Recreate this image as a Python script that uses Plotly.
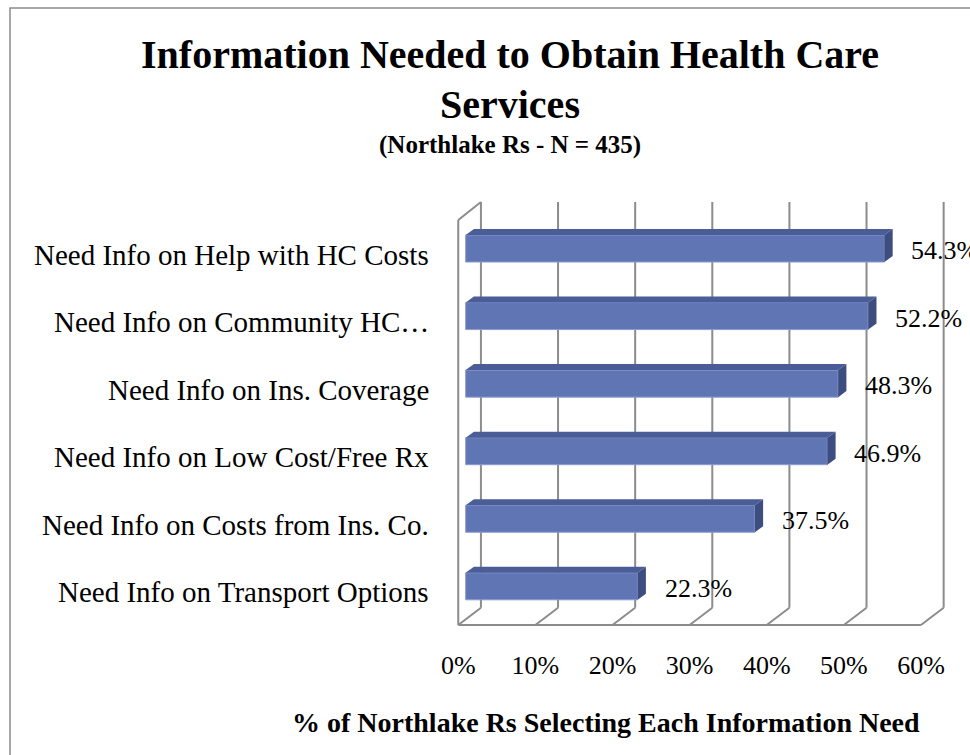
import plotly.graph_objects as go

# ---- data ----
categories = [
    "Need Info on Transport Options",
    "Need Info on Costs from Ins. Co.",
    "Need Info on Low Cost/Free Rx",
    "Need Info on Ins. Coverage",
    "Need Info on Community HC…",
    "Need Info on Help with HC Costs",
]
values = [22.3, 37.5, 46.9, 48.3, 52.2, 54.3]
tick_values = [0, 10, 20, 30, 40, 50, 60]
tick_labels = ["0%", "10%", "20%", "30%", "40%", "50%", "60%"]

# ---- styling / 3-D geometry (axis units) ----
FONT = "Liberation Serif"
FRONT = "#6076B4"
TOP = "#4B5D97"
SIDE = "#3E4D80"
GRID = "#8C8C8C"

W, H = 970, 755
ML, MR, MT, MB = 440, 10, 190, 115
XR = [-3.327, 64.1]
YR = [-0.795, 5.866]

BAR_HALF = 0.2          # half thickness of each bar
DEPTH_X, DEPTH_Y = 1.07, 0.089   # bar depth projection
FRONT_X = -0.96         # floor front edge offset
BACK_X = 1.98           # back wall offset
FLOOR_FRONT_Y, FLOOR_BACK_Y = -0.573, -0.317
WALL_TOP_BACK, WALL_TOP_FRONT = 5.688, 5.422

ys = list(range(len(categories)))

fig = go.Figure()
fig.add_trace(go.Bar(
    x=values, y=ys, orientation="h", width=2 * BAR_HALF,
    marker=dict(color=FRONT, line=dict(color="#8A9AD0", width=1)),
    hoverinfo="skip",
))

shapes = []


def line(x0, y0, x1, y1, **kw):
    shapes.append(dict(type="line", xref="x", yref="y", x0=x0, y0=y0, x1=x1, y1=y1,
                       line=dict(color=GRID, width=2), layer="below", **kw))


# back wall gridlines and floor diagonals
for t in tick_values:
    line(t + BACK_X, FLOOR_BACK_Y, t + BACK_X, WALL_TOP_BACK)
    line(t + FRONT_X, FLOOR_FRONT_Y, t + BACK_X, FLOOR_BACK_Y)
# floor front edge
line(tick_values[0] + FRONT_X, FLOOR_FRONT_Y, tick_values[-1] + FRONT_X, FLOOR_FRONT_Y)
# side wall
line(FRONT_X, FLOOR_FRONT_Y, FRONT_X, WALL_TOP_FRONT)
line(FRONT_X, WALL_TOP_FRONT, BACK_X, WALL_TOP_BACK)

# top and side faces of each bar
for v, y in zip(values, ys):
    yt, yb = y + BAR_HALF, y - BAR_HALF
    shapes.append(dict(
        type="path", xref="x", yref="y", layer="above",
        path=f"M 0,{yt} L {v},{yt} L {v + DEPTH_X},{yt + DEPTH_Y} L {DEPTH_X},{yt + DEPTH_Y} Z",
        fillcolor=TOP, line=dict(width=0)))
    shapes.append(dict(
        type="path", xref="x", yref="y", layer="above",
        path=f"M {v},{yb} L {v},{yt} L {v + DEPTH_X},{yt + DEPTH_Y} L {v + DEPTH_X},{yb + DEPTH_Y} Z",
        fillcolor=SIDE, line=dict(width=0)))

# outer frame of the chart
pw, ph = W - ML - MR, H - MT - MB
px = lambda p: (p - ML) / pw
py = lambda p: (H - MB - p) / ph
shapes.append(dict(type="path", xref="paper", yref="paper",
                   path=f"M {px(10)},{py(760)} L {px(10)},{py(8)} L {px(975)},{py(8)}",
                   line=dict(color="#8C8C8C", width=1.5)))

annotations = []
for c, y in zip(categories, ys):
    annotations.append(dict(x=px(431), y=y, xref="paper", yref="y", text=c,
                            xanchor="right", yanchor="middle", yshift=-6, showarrow=False,
                            font=dict(family=FONT, size=29, color="black")))
for v, y in zip(values, ys):
    annotations.append(dict(x=v, y=y, xref="x", yref="y", text=f"{v:.1f}%",
                            xanchor="left", yanchor="middle", xshift=25, yshift=-2,
                            showarrow=False, font=dict(family=FONT, size=26, color="black")))

annotations += [
    dict(x=px(510), y=py(55), xref="paper", yref="paper", showarrow=False,
         xanchor="center", yanchor="middle",
         text="<b>Information Needed to Obtain Health Care</b>",
         font=dict(family=FONT, size=40, color="black")),
    dict(x=px(510), y=py(104), xref="paper", yref="paper", showarrow=False,
         xanchor="center", yanchor="middle",
         text="<b>Services</b>", font=dict(family=FONT, size=40, color="black")),
    dict(x=px(510), y=py(145), xref="paper", yref="paper", showarrow=False,
         xanchor="center", yanchor="middle",
         text="<b>(Northlake Rs - N = 435)</b>", font=dict(family=FONT, size=25, color="black")),
    dict(x=px(606), y=py(722), xref="paper", yref="paper", showarrow=False,
         xanchor="center", yanchor="middle",
         text="<b>% of Northlake Rs Selecting Each Information Need</b>",
         font=dict(family=FONT, size=28, color="black")),
]

fig.update_layout(
    width=W, height=H,
    margin=dict(l=ML, r=MR, t=MT, b=MB, pad=0),
    paper_bgcolor="white", plot_bgcolor="white",
    showlegend=False,
    shapes=shapes, annotations=annotations,
    xaxis=dict(range=XR, showgrid=False, zeroline=False, showline=False,
               tickmode="array", tickvals=[t + FRONT_X for t in tick_values],
               ticktext=tick_labels, ticks="", ticklabelstandoff=7,
               tickfont=dict(family=FONT, size=26, color="black")),
    yaxis=dict(range=YR, showgrid=False, zeroline=False, showline=False,
               showticklabels=False),
)

fig.write_html("out.html")
